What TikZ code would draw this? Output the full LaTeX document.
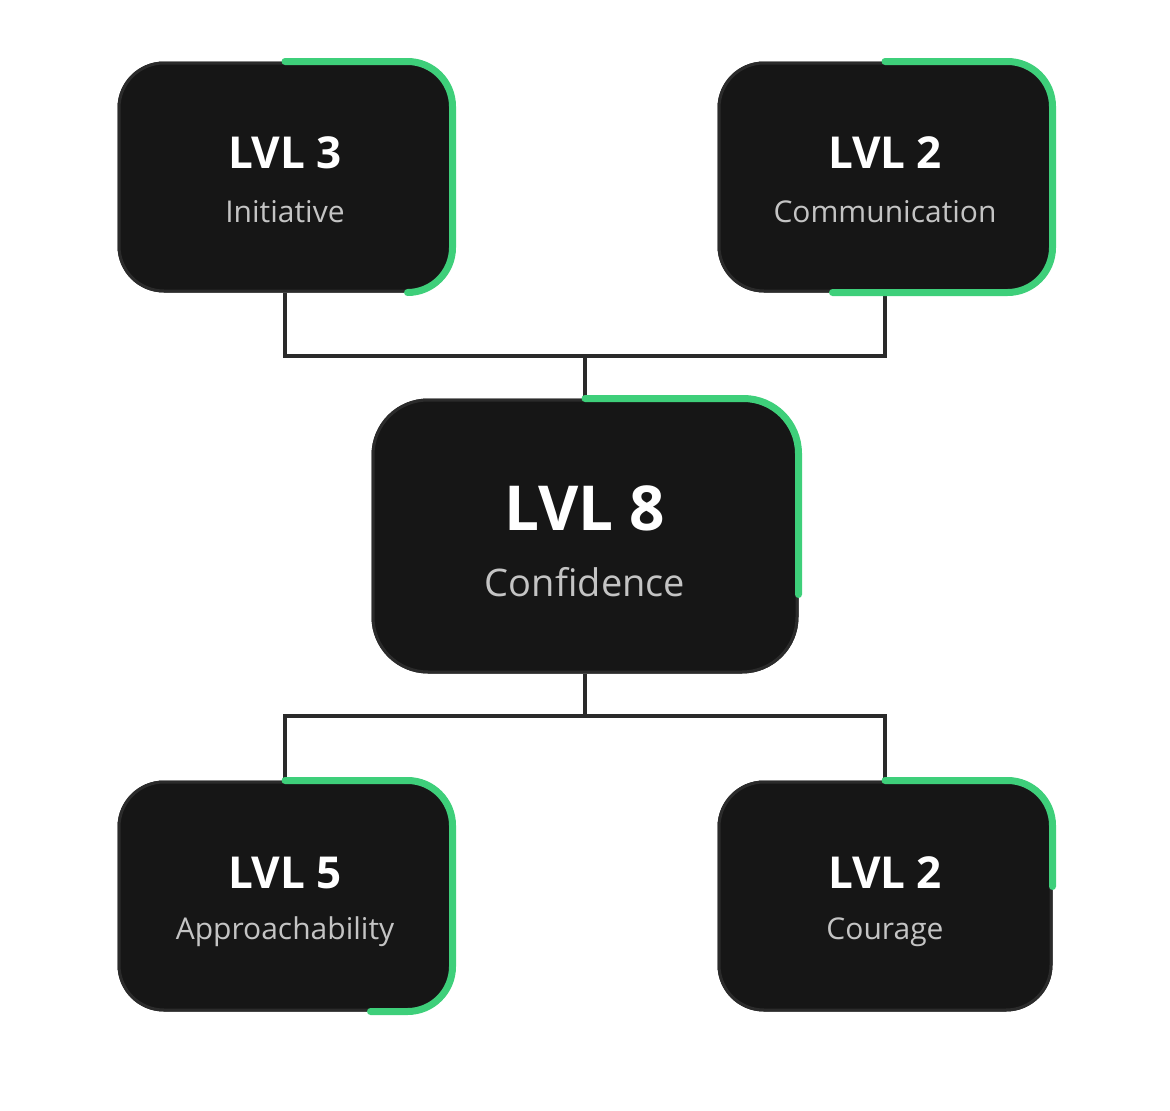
\documentclass[tikz,border=0pt]{standalone}
\usepackage{fontspec}
\setmainfont{Open Sans}
\definecolor{boxfill}{HTML}{161616}
\definecolor{boxline}{HTML}{2B2B2B}
\definecolor{prog}{HTML}{3ECF7A}
\definecolor{subtxt}{HTML}{C4C4C4}
\definecolor{wire}{HTML}{2A2A2A}
\begin{document}
\begin{tikzpicture}[x=1pt,y=-1pt,
  card/.style={draw=boxline,line width=3pt,fill=boxfill,rounded corners=45pt,minimum width=332pt,minimum height=228pt,inner sep=0pt},
  bigcard/.style={card,rounded corners=55pt,minimum width=424pt,minimum height=272pt},
  progress/.style={draw=prog,line width=7pt,line cap=round,rounded corners=45pt},
  wireline/.style={draw=wire,line width=3.5pt},
  lvl/.style={text=white,font=\bfseries\fontsize{44}{48}\selectfont},
  sub/.style={text=subtxt,font=\fontsize{30}{34}\selectfont},
  biglvl/.style={text=white,font=\bfseries\fontsize{62}{66}\selectfont},
  bigsub/.style={text=subtxt,font=\fontsize{38}{42}\selectfont}]
\useasboundingbox (0,0) rectangle (1170,1111);
% wires
\coordinate (jt) at (585,356);
\coordinate (jb) at (585,716);
\node[card] (tl) at (285,177) {};
\node[card] (tr) at (885,177) {};
\node[bigcard] (c) at (585,536) {};
\node[card] (bl) at (285,896) {};
\node[card] (br) at (885,896) {};
\draw[wireline] (tl.south) |- (jt) -| (tr.south);
\draw[wireline] (jt) -- (c.north);
\draw[wireline] (c.south) -- (jb);
\draw[wireline] (bl.north) |- (jb) -| (br.north);
% redraw cards over wires
\node[card] at (tl) {};
\node[card] at (tr) {};
\node[bigcard] at (c) {};
\node[card] at (bl) {};
\node[card] at (br) {};
% progress arcs
\draw[progress] (tl.north) -- (tl.north east) -- (tl.south east) -- ([xshift=-45pt]tl.south east);
\draw[progress] (tr.north) -- (tr.north east) -- (tr.south east) -- ([xshift=-220pt]tr.south east);
\draw[progress,rounded corners=55pt] (c.north) -- (c.north east) -- ([yshift=-196pt]c.north east);
\draw[progress] (bl.north) -- (bl.north east) -- (bl.south east) -- ([xshift=-82pt]bl.south east);
\draw[progress] (br.north) -- (br.north east) -- ([yshift=-106pt]br.north east);
% texts
\node[lvl] (tlt) at (285,153) {LVL 3};
\node[sub] (tls) at (285,212) {Initiative};
\node[lvl] (trt) at (885,153) {LVL 2};
\node[sub] (trs) at (885,212) {Communication};
\node[biglvl] (ct) at (585,508) {LVL 8};
\node[bigsub] (cs) at (585,582) {Confidence};
\node[lvl] (blt) at (285,873) {LVL 5};
\node[sub] (bls) at (285,932) {Approachability};
\node[lvl] (brt) at (885,873) {LVL 2};
\node[sub] (brs) at (885,932) {Courage};
\end{tikzpicture}
\end{document}
